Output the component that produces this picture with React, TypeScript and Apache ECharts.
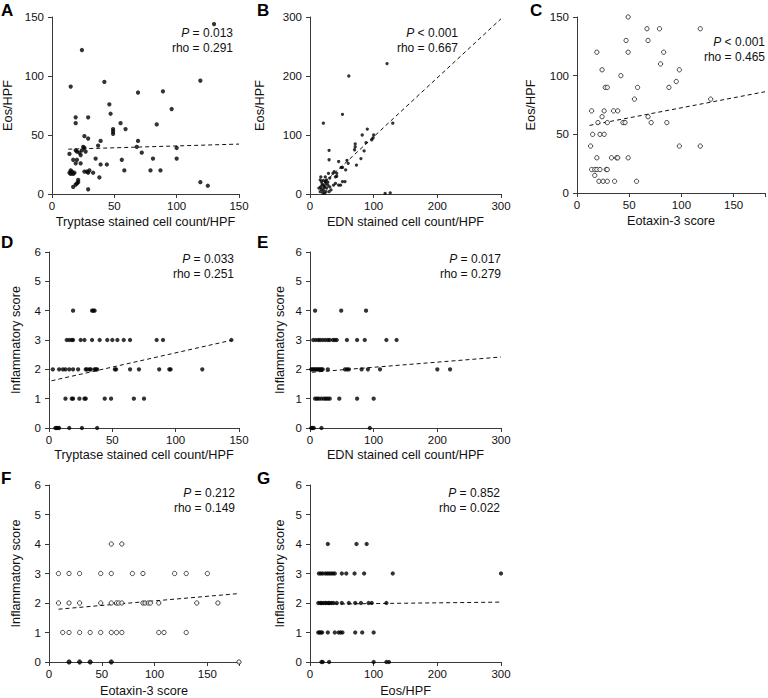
import React, { useEffect, useRef } from "react";
import * as echarts from "echarts";

// ---------- data ----------
// A: Tryptase stained cell count/HPF vs Eos/HPF
const aPoints: number[][] = [
  [130, 144], [24, 122], [15, 91], [42, 95], [119, 96], [69, 86], [89, 87], [46, 76], [96, 72], [47, 68],
  [19, 65], [29, 65], [19, 60], [55, 60], [84, 59], [59, 55], [49, 55], [49, 53], [49, 51], [26, 49],
  [29, 47], [39, 45], [69, 45], [37, 41], [25, 40], [68, 40], [100, 39], [26, 39], [24, 37], [19, 37],
  [27, 36], [22, 35], [20, 36], [14, 34], [72, 35], [23, 33], [35, 30], [20, 29], [17, 29], [19, 26],
  [23, 26], [39, 25], [44, 25], [56, 29], [81, 30], [100, 30], [15, 20], [14, 18], [16, 19], [17, 17],
  [15, 17], [18, 18], [26, 19], [28, 19], [30, 20], [33, 18], [38, 14], [58, 20], [79, 20], [87, 20],
  [21, 12], [20, 9], [21, 10], [19, 8], [17, 6], [29, 4], [119, 10], [125, 7], [29, 18],
];
const aTrend: number[][] = [[13, 38], [150, 42.3]];

// B: EDN stained cell count/HPF vs Eos/HPF
const bPoints: number[][] = [
  [121, 221], [61, 200], [51, 135], [21, 120], [130, 120], [90, 110], [82, 100], [100, 100], [99, 95], [97, 92],
  [71, 85], [71, 80], [70, 75], [85, 73], [88, 87], [30, 74], [80, 60], [30, 58], [58, 57], [45, 55],
  [60, 52], [73, 49], [49, 45], [51, 45], [56, 41], [38, 38], [36, 35], [29, 35], [42, 35], [42, 30],
  [40, 29], [31, 27], [24, 29], [17, 29], [51, 21], [55, 21], [45, 15], [48, 15], [37, 15], [40, 18],
  [16, 24], [18, 21], [21, 23], [24, 21], [26, 24], [25, 18], [28, 15], [21, 15], [17, 12], [14, 10],
  [18, 8], [22, 11], [26, 10], [31, 12], [33, 7], [21, 6], [25, 4], [30, 4], [16, 4], [20, 2],
  [23, 1], [118, 1], [126, 2], [28, 20], [19, 17], [23, 13],
];
const bTrend: number[][] = [[14, 11], [300, 297]];

// C: Eotaxin-3 score vs Eos/HPF
const cPoints: number[][] = [
  [49, 150], [67, 140], [79, 140], [118, 140], [47, 130], [68, 130], [19, 120], [49, 120], [83, 120], [80, 110],
  [24, 105], [98, 105], [42, 100], [95, 95], [27, 90], [29, 90], [58, 90], [88, 90], [55, 80], [128, 80],
  [14, 70], [26, 70], [35, 70], [39, 70], [24, 65], [68, 65], [20, 60], [29, 60], [44, 60], [46, 60],
  [71, 60], [86, 60], [15, 50], [22, 50], [26, 50], [13, 40], [98, 40], [118, 40], [19, 30], [33, 30],
  [38, 30], [39, 30], [49, 30], [14, 20], [17, 20], [19, 20], [22, 20], [28, 20], [29, 20], [17, 15],
  [21, 10], [25, 10], [29, 10], [36, 10], [57, 10],
];
const cTrend: number[][] = [[12, 57.6], [180, 86.3]];

// D: Tryptase stained cell count/HPF vs Inflammatory score
const dPoints: number[][] = [
  [5, 0], [6, 0], [7, 0], [8, 0], [16, 0], [26, 0], [38, 0],
  [13, 1], [18, 1], [19, 1], [24, 1], [28, 1], [29, 1], [44, 1], [49, 1], [67, 1], [75, 1],
  [3, 2], [8, 2], [11, 2], [13, 2], [16, 2], [19, 2], [23, 2], [29, 2], [30, 2], [32, 2], [33, 2], [36, 2],
  [37, 2], [38, 2], [52, 2], [53, 2], [64, 2], [71, 2], [87, 2], [95, 2], [96, 2], [121, 2],
  [14, 3], [16, 3], [18, 3], [19, 3], [25, 3], [28, 3], [34, 3], [40, 3], [46, 3], [50, 3], [54, 3],
  [59, 3], [64, 3], [85, 3], [90, 3], [144, 3],
  [19, 4], [34, 4], [35, 4], [36, 4],
];
const dTrend: number[][] = [[2, 1.61], [144, 2.99]];

// E: EDN stained cell count/HPF vs Inflammatory score
const ePoints: number[][] = [
  [2, 0], [4, 0], [6, 0], [18, 0], [94, 0],
  [8, 1], [11, 1], [14, 1], [18, 1], [22, 1], [25, 1], [28, 1], [31, 1], [46, 1], [74, 1], [100, 1],
  [2, 2], [4, 2], [6, 2], [8, 2], [10, 2], [12, 2], [14, 2], [16, 2], [18, 2], [20, 2], [28, 2], [55, 2],
  [58, 2], [61, 2], [81, 2], [91, 2], [110, 2], [200, 2], [220, 2],
  [5, 3], [9, 3], [13, 3], [16, 3], [20, 3], [24, 3], [28, 3], [31, 3], [36, 3], [39, 3], [42, 3],
  [58, 3], [74, 3], [86, 3], [120, 3], [136, 3],
  [8, 4], [49, 4], [88, 4],
];
const eTrend: number[][] = [[3, 1.9], [300, 2.42]];

// F: Eotaxin-3 score vs Inflammatory score
const fPoints: number[][] = [
  [19, 0], [29, 0], [39, 0], [59, 0], [180, 0],
  [13, 1], [19, 1], [29, 1], [39, 1], [49, 1], [59, 1], [64, 1], [69, 1], [104, 1], [109, 1], [130, 1],
  [9, 2], [19, 2], [29, 2], [49, 2], [59, 2], [64, 2], [66, 2], [69, 2], [89, 2], [91, 2], [94, 2], [96, 2],
  [104, 2], [140, 2], [160, 2],
  [9, 3], [19, 3], [29, 3], [49, 3], [59, 3], [79, 3], [89, 3], [119, 3], [130, 3], [150, 3],
  [59, 4], [69, 4],
];
const fTrend: number[][] = [[9, 1.79], [180, 2.32]];

// G: Eos/HPF vs Inflammatory score
const gPoints: number[][] = [
  [18, 0], [20, 0], [30, 0], [100, 0], [120, 0], [124, 0],
  [13, 1], [15, 1], [17, 1], [19, 1], [28, 1], [39, 1], [45, 1], [48, 1], [51, 1], [71, 1], [82, 1], [100, 1],
  [13, 2], [16, 2], [18, 2], [21, 2], [24, 2], [26, 2], [29, 2], [31, 2], [34, 2], [37, 2], [42, 2], [50, 2],
  [61, 2], [71, 2], [80, 2], [92, 2], [97, 2], [120, 2],
  [14, 3], [17, 3], [20, 3], [24, 3], [27, 3], [30, 3], [33, 3], [36, 3], [39, 3], [50, 3], [57, 3],
  [70, 3], [85, 3], [130, 3], [300, 3],
  [28, 4], [73, 4], [89, 4],
];
const gTrend: number[][] = [[16, 1.96], [300, 2.03]];

const panelLetters = ["A", "B", "C", "D", "E", "F", "G"];
const pTexts = ["= 0.013", "< 0.001", "< 0.001", "= 0.033", "= 0.017", "= 0.212", "= 0.852"];
const rhoTexts = ["0.291", "0.667", "0.465", "0.251", "0.279", "0.149", "0.022"];
const xNames = [
  "Tryptase stained cell count/HPF",
  "EDN stained cell count/HPF",
  "Eotaxin-3 score",
  "Tryptase stained cell count/HPF",
  "EDN stained cell count/HPF",
  "Eotaxin-3 score",
  "Eos/HPF",
];
const yNames = ["Eos/HPF", "Eos/HPF", "Eos/HPF", "Inflammatory score", "Inflammatory score", "Inflammatory score", "Inflammatory score"];
const xMaxes = [150, 300, 180, 150, 300, 180, 300];
const xIntervals = [50, 100, 50, 50, 100, 50, 100];
const yMaxes = [150, 300, 150, 6, 6, 6, 6];
const yIntervals = [50, 100, 50, 1, 1, 1, 1];
const pointSets = [aPoints, bPoints, cPoints, dPoints, ePoints, fPoints, gPoints];
const trendSets = [aTrend, bTrend, cTrend, dTrend, eTrend, fTrend, gTrend];

// ---------- layout / style ----------
const FONT = "'Liberation Sans', Arial, Helvetica, sans-serif";
const INK = "#111111";
const AXIS = "#3a3a3a";

const layout = [
  { left: 49, top: 17, width: 190, height: 177, yGap: 38, xGap: 21, annR: 233, annY: 33, lx: 1, ly: 2, open: false, size: 4.3 },
  { left: 310, top: 17, width: 191, height: 177, yGap: 44, xGap: 21, annR: 458, annY: 33, lx: 257, ly: 2, open: false, size: 3.3 },
  { left: 577, top: 17, width: 193, height: 176, yGap: 40, xGap: 21, annR: 765, annY: 42, lx: 530, ly: 2, open: true, size: 4.3 },
  { left: 49, top: 252, width: 190, height: 176, yGap: 27, xGap: 20, annR: 234, annY: 259, lx: 1, ly: 234, open: false, size: 4.3 },
  { left: 310, top: 252, width: 191, height: 176, yGap: 24, xGap: 20, annR: 501, annY: 259, lx: 257, ly: 234, open: false, size: 4.3 },
  { left: 49, top: 485, width: 190, height: 177, yGap: 27, xGap: 22, annR: 235, annY: 493, lx: 1, ly: 470, open: true, size: 4.3 },
  { left: 310, top: 485, width: 191, height: 177, yGap: 24, xGap: 22, annR: 500, annY: 493, lx: 257, ly: 470, open: false, size: 4.3 },
];

function buildOption() {
  const grid: any[] = [];
  const xAxis: any[] = [];
  const yAxis: any[] = [];
  const series: any[] = [];
  const graphic: any[] = [];

  layout.forEach((L, i) => {
    grid.push({ left: L.left, top: L.top, width: L.width, height: L.height, containLabel: false });
    const xi = xIntervals[i];
    xAxis.push({
      gridIndex: i,
      type: "value",
      min: 0,
      max: xMaxes[i],
      interval: xi,
      name: xNames[i],
      nameLocation: "middle",
      nameGap: L.xGap,
      nameTextStyle: { fontSize: 12.7, color: INK, fontFamily: FONT },
      axisLine: { onZero: false, lineStyle: { color: AXIS, width: 1 } },
      axisTick: { show: true, length: 4, lineStyle: { color: AXIS, width: 1 } },
      axisLabel: {
        fontSize: 11.5,
        color: INK,
        fontFamily: FONT,
        margin: 6,
        formatter: (v: number) => (v % xi === 0 ? String(v) : ""),
      },
      splitLine: { show: false },
    });
    yAxis.push({
      gridIndex: i,
      type: "value",
      min: 0,
      max: yMaxes[i],
      interval: yIntervals[i],
      name: yNames[i],
      nameLocation: "middle",
      nameGap: L.yGap,
      nameTextStyle: { fontSize: 12.7, color: INK, fontFamily: FONT },
      axisLine: { show: true, onZero: false, lineStyle: { color: AXIS, width: 1 } },
      axisTick: { show: true, length: 4, lineStyle: { color: AXIS, width: 1 } },
      axisLabel: { fontSize: 11.5, color: INK, fontFamily: FONT, margin: 8 },
      splitLine: { show: false },
    });

    const pts = pointSets[i];
    const data = pts.map(([x, y]) => {
      if (i === 5 && y === 0 && x < xMaxes[i]) {
        return { value: [x, y], itemStyle: { color: "#000", borderColor: "#000" } };
      }
      return [x, y];
    });
    series.push({
      type: "scatter",
      xAxisIndex: i,
      yAxisIndex: i,
      data,
      symbol: "circle",
      symbolSize: L.size,
      clip: false,
      z: 3,
      itemStyle: L.open
        ? { color: "#ffffff", borderColor: "#000", borderWidth: 0.9 }
        : { color: "#000", borderWidth: 0 },
    });
    series.push({
      type: "line",
      xAxisIndex: i,
      yAxisIndex: i,
      data: trendSets[i],
      symbol: "none",
      showSymbol: false,
      clip: false,
      z: 2,
      lineStyle: { type: [4, 3], width: 1, color: INK },
    });

    graphic.push({
      type: "text",
      left: L.lx,
      top: L.ly,
      style: { text: panelLetters[i], fontSize: 17, fontWeight: "bold", fontFamily: FONT, fill: "#000" },
    });
    graphic.push({
      type: "text",
      x: L.annR,
      y: L.annY,
      style: {
        text: "{i|P}{n| " + pTexts[i] + "}",
        align: "right",
        verticalAlign: "middle",
        fontSize: 12,
        fontFamily: FONT,
        fill: INK,
        rich: {
          i: { fontStyle: "italic", fontSize: 12, fontFamily: FONT, fill: INK },
          n: { fontSize: 12, fontFamily: FONT, fill: INK },
        },
      },
    });
    graphic.push({
      type: "text",
      x: L.annR,
      y: L.annY + 15,
      style: {
        text: "rho = " + rhoTexts[i],
        align: "right",
        verticalAlign: "middle",
        fontSize: 12,
        fontFamily: FONT,
        fill: INK,
      },
    });
  });

  return {
    animation: false,
    backgroundColor: "#ffffff",
    textStyle: { fontFamily: FONT },
    grid,
    xAxis,
    yAxis,
    series,
    graphic,
  };
}

export default function App() {
  const ref = useRef<HTMLDivElement>(null);
  useEffect(() => {
    if (!ref.current) return;
    const chart = echarts.init(ref.current, null, { renderer: "svg" });
    chart.setOption(buildOption() as any);
    return () => chart.dispose();
  }, []);
  return (
    <div
      ref={ref}
      style={{ position: "fixed", left: 0, top: 0, width: 768, height: 698, background: "#fff" }}
    />
  );
}
